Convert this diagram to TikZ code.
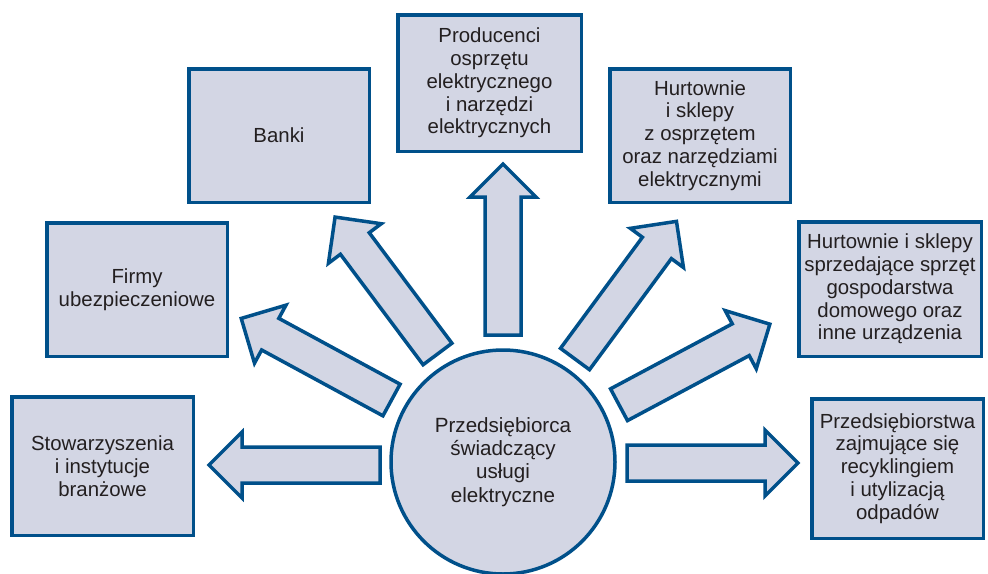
\documentclass[tikz,border=0pt]{standalone}
\usepackage{fontspec}
\setmainfont{Liberation Sans}
\definecolor{fillc}{HTML}{D3D6E4}
\definecolor{linec}{HTML}{00508A}
\definecolor{txtc}{HTML}{231F20}
\newcommand\blockarr[3]{%
  \begin{scope}[shift={(#1)},rotate=#2]
    \draw[blockarrow] (0,18) -- (138,18) -- (138,33) -- (171,0) -- (138,-33) -- (138,-18) -- (0,-18) -- cycle;
    \coordinate (#3) at (171,0);
  \end{scope}}
\begin{document}
\begin{tikzpicture}[x=1pt,y=-1pt,
  box/.style={draw=linec, fill=fillc, line width=3.5pt, text=txtc, align=center,
    font=\fontsize{20.4}{22.8}\selectfont, inner sep=0pt},
  hub/.style={circle, draw=linec, fill=fillc, line width=3.5pt, text=txtc, align=center,
    font=\fontsize{20.6}{23.3}\selectfont, inner sep=0pt, minimum size=224pt},
  blockarrow/.style={draw=linec, fill=fillc, line width=3.5pt, miter limit=10}]
\useasboundingbox (0,0) rectangle (988,573);
\clip (0,0) rectangle (988,573);

% boxes
\node[box, minimum width=181.5pt, minimum height=138.5pt] (stow) at (102.5,466)
  {Stowarzyszenia\\i instytucje\\branżowe};
\node[box, minimum width=180.5pt, minimum height=133.5pt] (firmy) at (137,289.5)
  {Firmy\\ubezpieczeniowe};
\node[box, minimum width=180.5pt, minimum height=133.5pt] (banki) at (279,135.5)
  {Banki};
\node[box, minimum width=183.5pt, minimum height=136.5pt] (prod) at (489.5,83)
  {Producenci\\osprzętu\\elektrycznego\\i narzędzi\\elektrycznych};
\node[box, minimum width=180.5pt, minimum height=133.5pt] (hurt) at (700,135.5)
  {Hurtownie\\i sklepy\\z osprzętem\\oraz narzędziami\\elektrycznymi};
\node[box, minimum width=182.5pt, minimum height=134.5pt] (hurtag) at (890,289)
  {Hurtownie i sklepy\\sprzedające sprzęt\\gospodarstwa\\domowego oraz\\inne urządzenia};
\node[box, minimum width=171.5pt, minimum height=139.5pt] (recyk) at (897.5,468.5)
  {Przedsiębiorstwa\\zajmujące się\\recyklingiem\\i utylizacją\\odpadów};

% block arrows
\blockarr{380,465}{180}{tipstow}
\blockarr{627,463}{0}{tiprecyk}
\blockarr{503,335}{90}{tipprod}
\blockarr{437.5,354}{126.8}{tipbanki}
\blockarr{575,359}{53.6}{tiphurt}
\blockarr{391.5,400}{151.5}{tipfirmy}
\blockarr{619,404.7}{28.1}{tiphurtag}

% hub
\node[hub] (hub) at (503,462)
  {Przedsiębiorca\\świadczący\\usługi\\elektryczne};
\end{tikzpicture}
\end{document}
